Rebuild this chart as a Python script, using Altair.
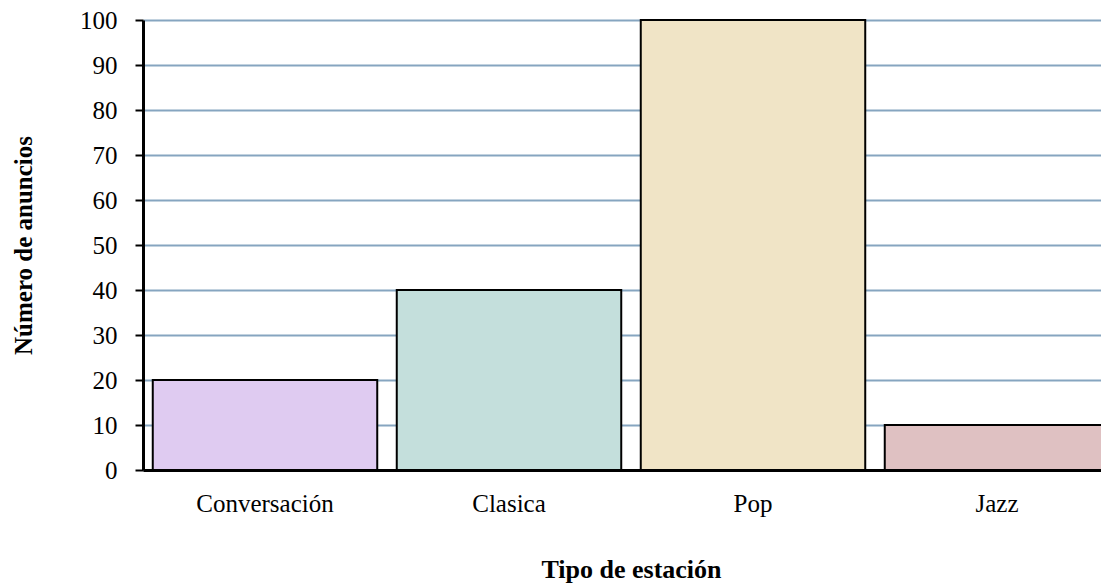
import altair as alt
import pandas as pd

categories = ["Conversación", "Clasica", "Pop", "Jazz"]
values = [20, 40, 100, 10]
colors = ["#DFCBF1", "#C4DFDC", "#F0E4C6", "#DFC1C2"]
y_ticks = [0, 10, 20, 30, 40, 50, 60, 70, 80, 90, 100]

df = pd.DataFrame({"cat": categories, "val": values})

FONT = "Liberation Serif"

chart = alt.Chart(df).mark_bar(stroke="black", strokeWidth=2).encode(
    x=alt.X("cat:N", sort=categories,
            scale=alt.Scale(range=[0, 976], paddingInner=0.08, paddingOuter=0.04),
            axis=alt.Axis(title="Tipo de estación", labelAngle=0, labelFontSize=25,
                          labelFont=FONT, labelColor="black", labelPadding=21,
                          ticks=False, domainColor="black", domainWidth=3,
                          titleFont=FONT, titleFontSize=26, titleFontWeight="bold",
                          titleColor="black", titlePadding=40, grid=False)),
    y=alt.Y("val:Q", scale=alt.Scale(domain=[0, 100], nice=False),
            axis=alt.Axis(title="Número de anuncios", values=y_ticks, labelFontSize=25,
                          labelFont=FONT, labelColor="black", labelPadding=18,
                          tickColor="black", tickSize=8, tickWidth=2,
                          domainColor="black", domainWidth=3,
                          titleFont=FONT, titleFontSize=25, titleFontWeight="bold",
                          titleColor="black", titlePadding=43,
                          grid=True, gridColor="#86A5C0", gridWidth=2)),
    color=alt.Color("cat:N", sort=categories,
                    scale=alt.Scale(domain=categories, range=colors), legend=None),
).properties(
    width=958,
    height=450,
    padding={"left": 135, "top": 12, "right": 0, "bottom": 113},
    autosize=alt.AutoSizeParams(type="none"),
).configure_view(stroke=None)

chart.save("out.html", embed_options={"renderer": "svg", "actions": False})
